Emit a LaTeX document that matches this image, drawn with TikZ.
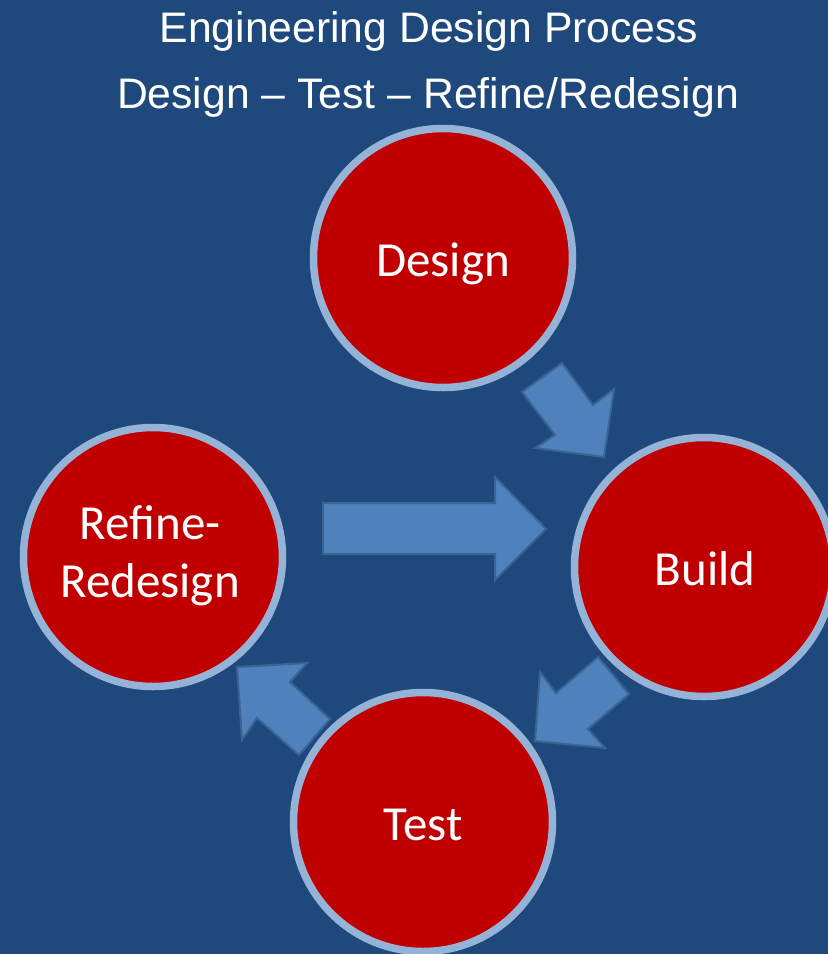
\documentclass[tikz,border=0pt]{standalone}
\usepackage{fontspec}
\setmainfont{Carlito}
\newfontfamily\titlefont{Liberation Sans}
\definecolor{bgblue}{HTML}{1F497D}
\definecolor{ringblue}{HTML}{95B3D7}
\definecolor{stepred}{HTML}{C00000}
\definecolor{arrowfill}{HTML}{4F81BD}
\definecolor{arrowedge}{HTML}{3A6494}
\begin{document}
\begin{tikzpicture}[x=1pt,y=-1pt,
  stepcircle/.style={circle, draw=ringblue, line width=7.5pt, fill=stepred,
    minimum size=259pt, inner sep=0pt},
  steplabel/.style={text=white, font=\fontsize{49}{58}\selectfont, anchor=base},
  blockarrow/.style={fill=arrowfill, draw=arrowedge, line width=2pt, line join=miter},
  titletext/.style={text=white, font=\titlefont\fontsize{42.7}{50}\selectfont, anchor=base}]
\fill[bgblue] (0,0) rectangle (828,954);
\useasboundingbox (0,0) rectangle (828,954);
\begin{scope}
\clip (0,0) rectangle (828,954);
\node[titletext] (t1) at (429,42) {Engineering Design Process};
\node[titletext] (t2) at (428,108) {Design – Test – Refine/Redesign};
\node[stepcircle] (design) at (443,258) {};
\node[stepcircle] (build) at (704,567) {};
\node[stepcircle] (refine) at (153,557) {};
\node[stepcircle] (test) at (423,822) {};
\node[steplabel] (designlabel) at (443,276) {Design};
\node[steplabel] (buildlabel) at (705,585) {Build};
\node[steplabel] (refinelabel1) at (150,539) {Refine-};
\node[steplabel] (refinelabel2) at (150,597) {Redesign};
\node[steplabel] (testlabel) at (423,840) {Test};
% Design -> Build
\draw[blockarrow] (522,392) -- (562,363) -- (593,405) -- (614,389) -- (604,457) -- (535,448) -- (555,435) -- cycle;
% Build -> Test
\draw[blockarrow] (598,657) -- (629,694) -- (588,729) -- (605,748) -- (535,741) -- (540,672) -- (556,693) -- cycle;
% Test -> Refine
\draw[blockarrow] (237,667) -- (307,663) -- (290,682) -- (330,719) -- (299,755) -- (257,718) -- (242,740) -- cycle;
% Refine -> Build
\draw[blockarrow] (323,503) -- (495,503) -- (495,477) -- (546,529) -- (495,580) -- (495,554) -- (323,554) -- cycle;
\end{scope}
\end{tikzpicture}
\end{document}
